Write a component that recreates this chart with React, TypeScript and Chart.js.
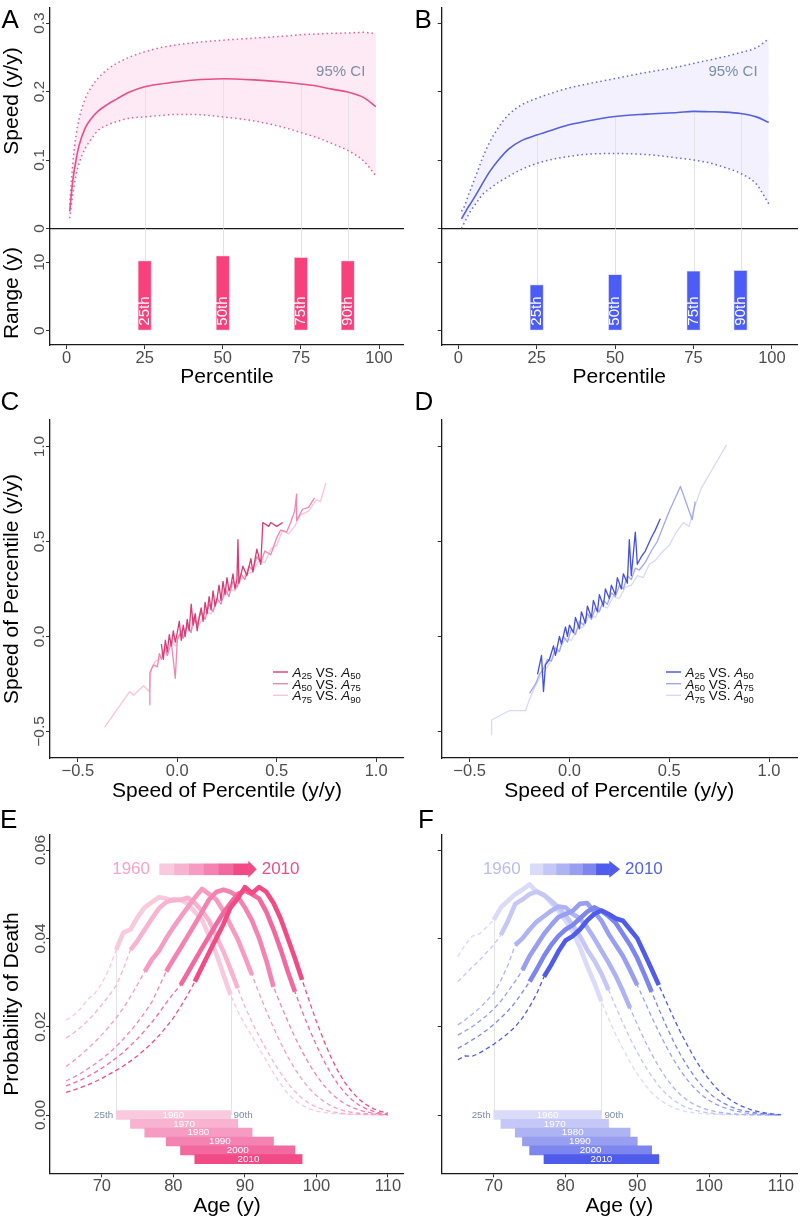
import React, { useEffect, useRef } from 'react';
import { Chart, registerables } from 'chart.js';

Chart.register(...registerables);

const FONT = '"Liberation Sans", Arial, Helvetica, sans-serif';
const AXIS = '#1a1a1a';
const TICK = '#333333';
const LABEL = '#4d4d4d';
const SLATE = '#7b8ea6';
const ROT = -Math.PI / 2;

/* ---------------- A & B : speed / range by percentile ---------------- */
const PCT = [1, 2, 3, 4, 6, 8, 10, 13, 16, 20, 25, 30, 35, 40, 50, 60, 70, 75, 80, 85, 90, 95, 99];
const A_MEAN = [0.025, 0.07, 0.099, 0.121, 0.147, 0.161, 0.171, 0.181, 0.189, 0.199, 0.207, 0.211, 0.214, 0.2165, 0.2187, 0.217, 0.2135, 0.211, 0.208, 0.2035, 0.1993, 0.1915, 0.178];
const A_UPPER = [0.035, 0.095, 0.135, 0.16, 0.19, 0.207, 0.219, 0.232, 0.241, 0.25, 0.258, 0.264, 0.268, 0.271, 0.275, 0.278, 0.281, 0.283, 0.284, 0.285, 0.2855, 0.2865, 0.2845];
const A_LOWER = [0.015, 0.05, 0.077, 0.095, 0.117, 0.131, 0.143, 0.151, 0.156, 0.161, 0.163, 0.165, 0.1665, 0.1665, 0.163, 0.157, 0.147, 0.14, 0.133, 0.124, 0.114, 0.099, 0.077];
const B_MEAN = [0.014, 0.022, 0.03, 0.037, 0.052, 0.068, 0.083, 0.101, 0.116, 0.128, 0.1365, 0.144, 0.151, 0.156, 0.1635, 0.167, 0.1695, 0.171, 0.1705, 0.17, 0.168, 0.163, 0.155];
const B_UPPER = [0.025, 0.033, 0.046, 0.058, 0.082, 0.106, 0.126, 0.149, 0.166, 0.18, 0.19, 0.198, 0.205, 0.21, 0.219, 0.228, 0.236, 0.241, 0.246, 0.251, 0.257, 0.264, 0.277];
const B_LOWER = [0.0, 0.009, 0.018, 0.026, 0.039, 0.051, 0.058, 0.068, 0.076, 0.086, 0.095, 0.101, 0.105, 0.108, 0.1095, 0.108, 0.103, 0.1, 0.096, 0.089, 0.0805, 0.065, 0.036];
const RANGE_PCT = [25, 50, 75, 90];
const RANGE_NAMES = ['25th', '50th', '75th', '90th'];
const A_RANGE = [10.2, 10.95, 10.7, 10.2];
const B_RANGE = [6.7, 8.2, 8.7, 8.8];
const SPEED_TICKS = [0, 0.1, 0.2, 0.3];
const RANGE_TICKS = [0, 10];
const PCT_TICKS = [0, 25, 50, 75, 100];

/* ---------------- C & D : speed of percentile pairs ---------------- */
const SOP_TICKS = [-0.5, 0, 0.5, 1];
const LEGEND_PAIRS = [['25', '50'], ['50', '75'], ['75', '90']];
const C_A25_A50 = [
  [-0.08, -0.04], [-0.07, -0.12], [-0.06, -0.02], [-0.05, -0.08], [-0.04, 0.01], [-0.03, -0.05], [-0.02, 0.03], [-0.01, -0.03],
  [0.0, 0.02], [0.01, 0.08], [0.02, -0.02], [0.03, 0.06], [0.04, 0.0], [0.05, 0.09], [0.06, 0.03], [0.07, 0.17],
  [0.08, 0.06], [0.09, 0.12], [0.1, 0.03], [0.11, 0.1], [0.12, 0.15], [0.13, 0.08], [0.14, 0.18], [0.15, 0.12],
  [0.16, 0.21], [0.17, 0.14], [0.18, 0.24], [0.19, 0.16], [0.2, 0.2], [0.21, 0.27], [0.22, 0.19], [0.23, 0.29],
  [0.24, 0.22], [0.25, 0.31], [0.26, 0.24], [0.27, 0.27], [0.28, 0.33], [0.29, 0.25], [0.3, 0.3], [0.305, 0.51],
  [0.31, 0.28], [0.33, 0.37], [0.35, 0.32], [0.37, 0.41], [0.38, 0.34], [0.4, 0.46], [0.42, 0.38], [0.43, 0.6],
  [0.46, 0.58], [0.47, 0.6], [0.5, 0.58], [0.53, 0.6],
];
const C_A50_A75 = [
  [-0.14, -0.36], [-0.138, -0.19], [-0.12, -0.15], [-0.1, -0.16], [-0.09, -0.09], [-0.08, -0.12], [-0.06, -0.06], [-0.05, -0.1],
  [-0.03, -0.03], [-0.01, -0.22], [0.0, -0.02], [0.02, 0.03], [0.03, -0.01], [0.05, 0.06], [0.07, 0.02], [0.08, 0.1],
  [0.1, 0.06], [0.12, 0.13], [0.14, 0.09], [0.16, 0.17], [0.18, 0.13], [0.2, 0.2], [0.22, 0.17], [0.24, 0.25],
  [0.26, 0.21], [0.28, 0.29], [0.3, 0.26], [0.32, 0.33], [0.34, 0.3], [0.36, 0.37], [0.38, 0.35], [0.4, 0.42],
  [0.42, 0.39], [0.44, 0.45], [0.47, 0.43], [0.5, 0.52], [0.52, 0.56], [0.55, 0.55], [0.57, 0.6], [0.59, 0.66],
  [0.6, 0.75], [0.6, 0.61], [0.63, 0.67], [0.66, 0.68], [0.69, 0.73],
];
const C_A75_A90 = [
  [-0.365, -0.477], [-0.24, -0.29], [-0.22, -0.31], [-0.17, -0.26], [-0.14, -0.29], [-0.13, -0.17], [-0.11, -0.13], [-0.09, -0.12],
  [-0.07, -0.07], [-0.05, -0.1], [-0.03, -0.02], [-0.01, -0.05], [0.01, 0.01], [0.03, -0.01], [0.05, 0.05], [0.07, 0.03],
  [0.09, 0.09], [0.11, 0.06], [0.14, 0.13], [0.17, 0.12], [0.2, 0.18], [0.23, 0.2], [0.26, 0.25], [0.29, 0.24],
  [0.32, 0.3], [0.35, 0.33], [0.38, 0.34], [0.41, 0.4], [0.44, 0.39], [0.47, 0.46], [0.5, 0.48], [0.53, 0.56],
  [0.56, 0.54], [0.59, 0.58], [0.62, 0.64], [0.66, 0.66], [0.7, 0.72], [0.72, 0.71], [0.747, 0.808],
];
const D_A25_A50 = [
  [-0.16, -0.2], [-0.14, -0.1], [-0.13, -0.29], [-0.12, -0.15], [-0.1, -0.12], [-0.08, -0.05], [-0.07, -0.1], [-0.05, 0.0],
  [-0.04, -0.04], [-0.02, 0.05], [-0.01, 0.0], [0.0, 0.06], [0.02, 0.02], [0.03, 0.1], [0.05, 0.04], [0.06, 0.13],
  [0.08, 0.07], [0.09, 0.16], [0.11, 0.1], [0.12, 0.19], [0.14, 0.13], [0.15, 0.22], [0.17, 0.16], [0.18, 0.25],
  [0.2, 0.2], [0.21, 0.27], [0.23, 0.22], [0.24, 0.31], [0.26, 0.25], [0.27, 0.33], [0.29, 0.28], [0.3, 0.51],
  [0.31, 0.32], [0.33, 0.55], [0.34, 0.38], [0.36, 0.42], [0.38, 0.45], [0.41, 0.52], [0.43, 0.56], [0.455, 0.62],
];
const D_A50_A75 = [
  [-0.2, -0.3], [-0.17, -0.25], [-0.15, -0.2], [-0.13, -0.17], [-0.11, -0.12], [-0.09, -0.13], [-0.07, -0.06], [-0.05, -0.08],
  [-0.03, 0.0], [-0.01, -0.03], [0.01, 0.04], [0.03, 0.01], [0.05, 0.08], [0.07, 0.06], [0.09, 0.12], [0.11, 0.09],
  [0.13, 0.15], [0.15, 0.13], [0.17, 0.19], [0.19, 0.17], [0.21, 0.23], [0.23, 0.21], [0.25, 0.27], [0.27, 0.25],
  [0.29, 0.32], [0.31, 0.3], [0.33, 0.36], [0.35, 0.35], [0.38, 0.39], [0.41, 0.45], [0.44, 0.5], [0.47, 0.58],
  [0.5, 0.66], [0.556, 0.79], [0.615, 0.615], [0.63, 0.71],
];
const D_A75_A90 = [
  [-0.39, -0.52], [-0.39, -0.44], [-0.3, -0.39], [-0.22, -0.39], [-0.2, -0.33], [-0.17, -0.26], [-0.14, -0.2], [-0.11, -0.16],
  [-0.08, -0.1], [-0.05, -0.07], [-0.02, -0.01], [0.01, -0.02], [0.04, 0.04], [0.07, 0.05], [0.1, 0.11], [0.13, 0.1],
  [0.16, 0.16], [0.19, 0.15], [0.22, 0.21], [0.25, 0.2], [0.28, 0.26], [0.31, 0.27], [0.34, 0.32], [0.37, 0.31],
  [0.4, 0.38], [0.43, 0.4], [0.46, 0.44], [0.5, 0.48], [0.53, 0.54], [0.57, 0.6], [0.6, 0.58], [0.62, 0.66],
  [0.66, 0.78], [0.71, 0.87], [0.787, 1.009],
];

/* ---------------- E & F : probability of death by age ---------------- */
const AGES = [65, 66, 67, 68, 69, 70, 71, 72, 73, 74, 75, 76, 77, 78, 79, 80, 81, 82, 83, 84, 85, 86, 87, 88, 89, 90, 91, 92, 93, 94, 95, 96, 97, 98, 99, 100, 101, 102, 103, 104, 105, 106, 107, 108, 109, 110];
const DECADES = ['1960', '1970', '1980', '1990', '2000', '2010'];
const E_1960 = [0.0215, 0.0225, 0.024, 0.0262, 0.0275, 0.0298, 0.033, 0.0374, 0.0413, 0.042, 0.0448, 0.047, 0.0482, 0.0493, 0.049, 0.0485, 0.0488, 0.0478, 0.046, 0.0442, 0.0405, 0.0365, 0.0318, 0.0272, 0.0235, 0.0205, 0.0178, 0.015, 0.0123, 0.0095, 0.007, 0.0048, 0.0033, 0.0022, 0.0014, 0.0009, 0.0006, 0.0004, 0.0003, 0.0002, 0.00015, 0.0001, 0.0001, 0.00005, 0.00005, 0.00003];
const E_1970 = [0.0174, 0.0185, 0.0198, 0.0213, 0.023, 0.025, 0.027, 0.0293, 0.033, 0.0374, 0.0395, 0.042, 0.0445, 0.0468, 0.0482, 0.0488, 0.0487, 0.0492, 0.048, 0.0462, 0.044, 0.0405, 0.037, 0.033, 0.0287, 0.0245, 0.021, 0.0178, 0.0148, 0.012, 0.0095, 0.0072, 0.0053, 0.0038, 0.0026, 0.0018, 0.0012, 0.0008, 0.0005, 0.0003, 0.0002, 0.00015, 0.0001, 0.00007, 0.00005, 0.00003];
const E_1980 = [0.011, 0.0122, 0.0135, 0.015, 0.0165, 0.0182, 0.02, 0.022, 0.0242, 0.0268, 0.0296, 0.0325, 0.0352, 0.0372, 0.04, 0.0425, 0.0448, 0.047, 0.0492, 0.0512, 0.05, 0.0488, 0.0462, 0.043, 0.0398, 0.0358, 0.0317, 0.0275, 0.0235, 0.0198, 0.0163, 0.0132, 0.0104, 0.008, 0.006, 0.0044, 0.0031, 0.0021, 0.0014, 0.0009, 0.0006, 0.0004, 0.0003, 0.0002, 0.0001, 0.00005];
const E_1990 = [0.0077, 0.0085, 0.0094, 0.0104, 0.0115, 0.0127, 0.014, 0.0155, 0.0172, 0.019, 0.021, 0.0232, 0.0256, 0.029, 0.0325, 0.0352, 0.0378, 0.0405, 0.0432, 0.046, 0.0488, 0.0505, 0.051, 0.0505, 0.0495, 0.047, 0.044, 0.04, 0.035, 0.029, 0.025, 0.0212, 0.0176, 0.0144, 0.0115, 0.009, 0.0068, 0.005, 0.0036, 0.0025, 0.0017, 0.0011, 0.0007, 0.0004, 0.0002, 0.0001];
const E_2000 = [0.0066, 0.0072, 0.0079, 0.0087, 0.0096, 0.0106, 0.0117, 0.0129, 0.0142, 0.0157, 0.0173, 0.0191, 0.021, 0.0231, 0.0254, 0.0275, 0.0294, 0.0322, 0.035, 0.0378, 0.0405, 0.0432, 0.0458, 0.048, 0.05, 0.0508, 0.05, 0.049, 0.046, 0.042, 0.0375, 0.0325, 0.0279, 0.0235, 0.0195, 0.0158, 0.0124, 0.0095, 0.007, 0.005, 0.0034, 0.0022, 0.0014, 0.0008, 0.0004, 0.0002];
const E_2010 = [0.0051, 0.0056, 0.0062, 0.0068, 0.0075, 0.0083, 0.0092, 0.0101, 0.0111, 0.0122, 0.0134, 0.0148, 0.0163, 0.018, 0.0199, 0.022, 0.0245, 0.0272, 0.0302, 0.0335, 0.0368, 0.04, 0.0432, 0.047, 0.049, 0.0516, 0.0502, 0.0516, 0.0505, 0.048, 0.0445, 0.04, 0.0355, 0.0306, 0.0258, 0.0212, 0.017, 0.0132, 0.01, 0.0073, 0.0052, 0.0035, 0.0023, 0.0014, 0.0008, 0.0004];
const F_1960 = [0.0359, 0.0385, 0.0405, 0.041, 0.0425, 0.0442, 0.047, 0.0485, 0.05, 0.051, 0.0522, 0.0505, 0.0498, 0.048, 0.0462, 0.044, 0.0415, 0.038, 0.0338, 0.03, 0.0257, 0.0218, 0.0182, 0.015, 0.012, 0.0093, 0.007, 0.0051, 0.0036, 0.0025, 0.0017, 0.0011, 0.0007, 0.0005, 0.0003, 0.0002, 0.00015, 0.0001, 0.0001, 0.00005, 0.00005, 0.00003, 0.00002, 0.00002, 0.00001, 0.00001];
const F_1970 = [0.0302, 0.0318, 0.0335, 0.035, 0.0368, 0.0385, 0.0408, 0.044, 0.0478, 0.0488, 0.05, 0.0506, 0.0498, 0.0485, 0.047, 0.0452, 0.043, 0.0405, 0.0375, 0.035, 0.032, 0.0283, 0.0245, 0.0208, 0.0173, 0.0142, 0.0113, 0.0088, 0.0066, 0.0048, 0.0034, 0.0024, 0.0016, 0.0011, 0.0007, 0.0005, 0.0003, 0.0002, 0.00015, 0.0001, 0.00007, 0.00005, 0.00003, 0.00002, 0.00001, 0.00001];
const F_1980 = [0.0204, 0.0215, 0.0228, 0.0242, 0.0258, 0.0276, 0.0305, 0.034, 0.0385, 0.04, 0.042, 0.0438, 0.045, 0.0462, 0.0472, 0.047, 0.0455, 0.0445, 0.0425, 0.04, 0.0372, 0.0345, 0.0315, 0.028, 0.0242, 0.0205, 0.017, 0.0138, 0.0109, 0.0084, 0.0063, 0.0046, 0.0033, 0.0023, 0.0016, 0.0011, 0.0007, 0.0005, 0.0003, 0.0002, 0.0001, 0.00008, 0.00005, 0.00003, 0.00002, 0.00001];
const F_1990 = [0.0181, 0.019, 0.02, 0.0212, 0.0225, 0.024, 0.0258, 0.028, 0.0303, 0.0328, 0.036, 0.0385, 0.041, 0.043, 0.0448, 0.0455, 0.0462, 0.0478, 0.048, 0.046, 0.044, 0.041, 0.0385, 0.036, 0.0328, 0.0294, 0.0258, 0.0222, 0.0188, 0.0156, 0.0127, 0.0101, 0.0079, 0.006, 0.0045, 0.0033, 0.0024, 0.0017, 0.0012, 0.0008, 0.0005, 0.0003, 0.0002, 0.0001, 0.00005, 0.00003];
const F_2000 = [0.0151, 0.016, 0.017, 0.018, 0.0192, 0.0205, 0.022, 0.0236, 0.0255, 0.0278, 0.0302, 0.033, 0.036, 0.0385, 0.0405, 0.042, 0.043, 0.0445, 0.046, 0.047, 0.0462, 0.045, 0.0435, 0.041, 0.0385, 0.0355, 0.0318, 0.0279, 0.024, 0.0203, 0.0168, 0.0137, 0.011, 0.0086, 0.0066, 0.005, 0.0037, 0.0027, 0.0019, 0.0013, 0.0009, 0.0006, 0.0004, 0.0002, 0.0001, 0.0001];
const F_2010 = [0.0125, 0.0134, 0.0133, 0.014, 0.015, 0.016, 0.0172, 0.0185, 0.02, 0.022, 0.0245, 0.0275, 0.0313, 0.034, 0.037, 0.0395, 0.0405, 0.042, 0.044, 0.0455, 0.0463, 0.0455, 0.0445, 0.044, 0.042, 0.04, 0.0365, 0.033, 0.0294, 0.0258, 0.0222, 0.0188, 0.0157, 0.0128, 0.0102, 0.008, 0.0061, 0.0046, 0.0034, 0.0024, 0.0017, 0.0011, 0.0007, 0.0004, 0.0002, 0.0001];
const E_P25 = [72, 74, 76, 79, 81, 83];
const E_P90 = [88, 89, 91, 94, 97, 98];
const F_P25 = [70, 71, 73, 74, 75, 77];
const F_P90 = [85, 86, 89, 90, 92, 93];
const BAR_LEVELS = [0, -0.002, -0.004, -0.006, -0.008, -0.01];
const AGE_TICKS = [70, 80, 90, 100, 110];
const PROB_TICKS = [0, 0.02, 0.04, 0.06];

/* ---------------- styles ---------------- */
const PINK = {
  mean: '#e64f8a', ci: '#e0609a', fill: '#fdeaf4', bar: '#f8417c', barEdge: '#fcc8da',
  pairs: ['#d83b76', '#ee87b2', '#f8c5db'],
  decades: ['#f9c9de', '#f8b3d1', '#f69cc2', '#f483b1', '#f2699f', '#f24a84'],
  from: '#f5a4c8', to: '#ec4f88',
};
const BLUE = {
  mean: '#5560dc', ci: '#6469d4', fill: '#f2f1fd', bar: '#4c5cf6', barEdge: '#c9cdfb',
  pairs: ['#4551d8', '#a1a7ef', '#d7d9f7'],
  decades: ['#d9dbf8', '#c5c8f6', '#aeb3f3', '#989ff1', '#7d86ee', '#4f5ceb'],
  from: '#b8bcf3', to: '#5462e2',
};
const LEFT = { ox: 0, w: 404, l: 50, r: 404, mid: 227, ci: 340.7, legLine: [273, 288], arrow: { textEnd: 150, x0: 159.3, x1: 248.3, head: 256.7 } };
const RIGHT = { ox: 400, w: 400, l: 441.7, r: 797, mid: 619.3, ci: 733, legLine: [666, 681], arrow: { textEnd: 120.7, x0: 130, x1: 209.3, head: 220 } };

/* ---------------- helpers ---------------- */
const fmtSpeed = (v: number) => (v === 0 ? '0' : v.toFixed(1));
const fmtSigned = (v: number) => (v < 0 ? '\u2212' : '') + Math.abs(v).toFixed(1);
const fmtInt = (v: number) => String(v);
const fmtProb = (v: number) => v.toFixed(2);
const pts = (xs: number[], ys: number[]) => xs.map((x, i) => ({ x, y: ys[i] }));

function drawText(ctx: any, s: string, x: number, y: number, size: number, color: string, o: any = {}) {
  ctx.save();
  ctx.translate(x, y);
  if (o.rot) ctx.rotate(o.rot);
  ctx.font = `${o.style ? o.style + ' ' : ''}${size}px ${FONT}`;
  ctx.fillStyle = color;
  ctx.textAlign = o.align || 'center';
  ctx.textBaseline = o.baseline || 'middle';
  ctx.fillText(s, 0, 0);
  ctx.restore();
}

function xAxis(min: number, max: number, ticks: number[], height: number, labels: boolean, marks: boolean, fmt: (v: number) => string) {
  return {
    type: 'linear', position: 'bottom', min, max, offset: false, bounds: 'data',
    afterBuildTicks: (s: any) => { s.ticks = ticks.map((v) => ({ value: v })); },
    afterFit: (s: any) => { s.height = height; s.paddingLeft = 0; s.paddingRight = 0; s.paddingTop = 0; s.paddingBottom = 0; },
    grid: { display: marks, drawOnChartArea: false, drawTicks: marks, tickLength: 4, tickColor: TICK, tickWidth: 1, offset: false },
    border: { display: true, color: AXIS, width: 1.3 },
    ticks: { display: labels, autoSkip: false, maxRotation: 0, minRotation: 0, padding: 0, color: LABEL, font: { family: FONT, size: 16.5, lineHeight: 1.1 }, callback: (v: any) => fmt(Number(v)) },
  };
}

function yAxis(min: number, max: number, ticks: number[], width: number) {
  return {
    type: 'linear', position: 'left', min, max, bounds: 'data', offset: false,
    afterBuildTicks: (s: any) => { s.ticks = ticks.map((v) => ({ value: v })); },
    afterFit: (s: any) => { s.width = width; s.paddingLeft = 0; s.paddingRight = 0; s.paddingTop = 0; s.paddingBottom = 0; },
    grid: { display: true, drawOnChartArea: false, drawTicks: true, tickLength: 4, tickColor: TICK, tickWidth: 1, offset: false },
    border: { display: true, color: AXIS, width: 1.3 },
    ticks: { display: false },
  };
}

function lineSet(data: any[], color: string, width: number, dash: number[] = [], smooth = false) {
  return {
    type: 'line', data, borderColor: color, backgroundColor: color, borderWidth: width, borderDash: dash,
    pointRadius: 0, fill: false, tension: 0, cubicInterpolationMode: smooth ? 'monotone' : 'default',
    borderJoinStyle: 'round',
  };
}

function makeConfig(box: any, plot: any, datasets: any[], scales: any, plugin: any) {
  return {
    type: 'line',
    data: { datasets },
    options: {
      responsive: false, maintainAspectRatio: false, animation: false, devicePixelRatio: 1, events: [],
      layout: { padding: { left: 0, top: plot.t - box.y, right: box.x + box.w - plot.r, bottom: 0 } },
      plugins: { legend: { display: false }, tooltip: { enabled: false }, filler: { drawTime: 'beforeDatasetsDraw' } },
      scales,
    },
    plugins: [plugin],
  };
}

function yLabels(ctx: any, scale: any, ticks: number[], fmt: (v: number) => string, x: number) {
  ticks.forEach((v) => drawText(ctx, fmt(v), x, scale.getPixelForValue(v), 15.5, LABEL, { rot: ROT, baseline: 'alphabetic' }));
}

/* ---------------- panel builders ---------------- */
function speedPanel(side: any, mean: number[], upper: number[], lower: number[], th: any, first: boolean) {
  const box = { x: side.ox, y: 0, w: side.w, h: 240 };
  const plot = { l: side.l, t: 8, r: side.r, b: 228.5 };
  const plugin = {
    id: 'speedDeco',
    beforeDatasetsDraw(chart: any) {
      const { ctx, scales: { x, y } } = chart;
      ctx.save();
      ctx.strokeStyle = '#e3e3e3';
      ctx.lineWidth = 1;
      RANGE_PCT.forEach((p) => {
        const px = Math.round(x.getPixelForValue(p)) + 0.5;
        ctx.beginPath();
        ctx.moveTo(px, y.getPixelForValue(mean[PCT.indexOf(p)]));
        ctx.lineTo(px, y.getPixelForValue(0));
        ctx.stroke();
      });
      ctx.restore();
    },
    afterDraw(chart: any) {
      const { ctx, scales: { y } } = chart;
      drawText(ctx, '95% CI', side.ci - box.x, 71.7 - box.y, 15, SLATE);
      if (first) {
        yLabels(ctx, y, SPEED_TICKS, fmtSpeed, 44 - box.x);
        drawText(ctx, 'Speed (y/y)', 17.5 - box.x, 101 - box.y, 21, '#000', { rot: ROT, baseline: 'alphabetic' });
      }
    },
  };
  const datasets = [
    lineSet(pts(PCT, mean), th.mean, 1.6, [], true),
    { ...lineSet(pts(PCT, upper), th.ci, 1.5, [1.5, 3], true), fill: '+1', backgroundColor: th.fill },
    lineSet(pts(PCT, lower), th.ci, 1.5, [1.5, 3], true),
  ];
  const scales = {
    x: xAxis(-5.3, 108, PCT_TICKS, box.h - plot.b + box.y, false, false, fmtInt),
    y: yAxis(0, 0.322, SPEED_TICKS, plot.l - box.x),
  };
  return { box, build: () => makeConfig(box, plot, datasets, scales, plugin) };
}

function rangePanel(side: any, values: number[], th: any, first: boolean) {
  const box = { x: side.ox, y: 229, w: side.w, h: 171 };
  const plot = { l: side.l, t: 229, r: side.r, b: 345 };
  const plugin = {
    id: 'rangeDeco',
    beforeDatasetsDraw(chart: any) {
      const { ctx, chartArea, scales: { x, y } } = chart;
      ctx.save();
      ctx.strokeStyle = '#e3e3e3';
      ctx.lineWidth = 1;
      RANGE_PCT.forEach((p, i) => {
        const px = Math.round(x.getPixelForValue(p)) + 0.5;
        ctx.beginPath();
        ctx.moveTo(px, chartArea.top);
        ctx.lineTo(px, y.getPixelForValue(values[i]));
        ctx.stroke();
      });
      ctx.restore();
    },
    afterDatasetsDraw(chart: any) {
      const { ctx, scales: { x, y } } = chart;
      RANGE_PCT.forEach((p, i) => {
        drawText(ctx, RANGE_NAMES[i], x.getPixelForValue(p), y.getPixelForValue(0) - 5, 15, '#ffffff', { rot: ROT, align: 'left' });
      });
    },
    afterDraw(chart: any) {
      const { ctx, scales: { y } } = chart;
      if (first) {
        yLabels(ctx, y, RANGE_TICKS, fmtInt, 44 - box.x);
        drawText(ctx, 'Range (y)', 17.5 - box.x, 293 - box.y, 21, '#000', { rot: ROT, baseline: 'alphabetic' });
      }
      drawText(ctx, 'Percentile', side.mid - box.x, 377.7 - box.y, 21, '#000');
    },
  };
  const datasets = [{
    type: 'bar', data: pts(RANGE_PCT, values), backgroundColor: th.bar, borderColor: th.barEdge,
    borderWidth: 0.8, borderSkipped: false, barThickness: 13.3,
  }];
  const scales = {
    x: xAxis(-5.3, 108, PCT_TICKS, box.y + box.h - plot.b, true, true, fmtInt),
    y: yAxis(-2.09, 14.85, RANGE_TICKS, plot.l - box.x),
  };
  return { box, build: () => makeConfig(box, plot, datasets, scales, plugin) };
}

function pairLegend(ctx: any, side: any, box: any, colors: string[]) {
  const rows = [672, 683.7, 695.3];
  LEGEND_PAIRS.forEach(([a, b], i) => {
    const y = rows[i] - box.y;
    ctx.save();
    ctx.strokeStyle = colors[i];
    ctx.lineWidth = 1.4;
    ctx.beginPath();
    ctx.moveTo(side.legLine[0] - box.x, y);
    ctx.lineTo(side.legLine[1] - box.x, y);
    ctx.stroke();
    let x = side.legLine[1] + 4.5 - box.x;
    const parts: any[] = [['A', 'italic ', 13.5, 0], [a, '', 9.5, 2.5], [' VS. ', '', 13.5, 0], ['A', 'italic ', 13.5, 0], [b, '', 9.5, 2.5]];
    ctx.fillStyle = '#111';
    ctx.textAlign = 'left';
    ctx.textBaseline = 'alphabetic';
    parts.forEach(([s, st, size, dy]) => {
      ctx.font = `${st}${size}px ${FONT}`;
      ctx.fillText(s, x, y + 4.8 + dy);
      x += ctx.measureText(s).width;
    });
    ctx.restore();
  });
}

function sopPanel(side: any, series: number[][][], th: any, first: boolean) {
  const box = { x: side.ox, y: 405, w: side.w, h: 405 };
  const plot = { l: side.l, t: 420, r: side.r, b: 758 };
  const plugin = {
    id: 'sopDeco',
    afterDraw(chart: any) {
      const { ctx, scales: { y } } = chart;
      pairLegend(ctx, side, box, th.pairs);
      if (first) {
        yLabels(ctx, y, SOP_TICKS, fmtSigned, 44 - box.x);
        drawText(ctx, 'Speed of Percentile (y/y)', 17.5 - box.x, 589 - box.y, 21, '#000', { rot: ROT, baseline: 'alphabetic' });
      }
      drawText(ctx, 'Speed of Percentile (y/y)', side.mid - box.x, 791.7 - box.y, 21, '#000');
    },
  };
  const datasets = series.map((s, i) => lineSet(s.map(([x, y]) => ({ x, y })), th.pairs[i], 1.3));
  const scales = {
    x: xAxis(-0.64, 1.14, SOP_TICKS, box.y + box.h - plot.b, true, true, fmtSigned),
    y: yAxis(-0.64, 1.14, SOP_TICKS, plot.l - box.x),
  };
  return { box, build: () => makeConfig(box, plot, datasets, scales, plugin) };
}

function agePanel(side: any, curves: number[][], p25: number[], p90: number[], th: any, first: boolean) {
  const box = { x: side.ox, y: 830, w: side.w, h: 390 };
  const plot = { l: side.l, t: 835, r: side.r, b: 1173.3 };
  const plugin = {
    id: 'ageDeco',
    beforeDatasetsDraw(chart: any) {
      const { ctx, scales: { x, y } } = chart;
      ctx.save();
      ctx.strokeStyle = '#e3e3e3';
      ctx.lineWidth = 1;
      [p25[0], p90[0]].forEach((a) => {
        const px = Math.round(x.getPixelForValue(a)) + 0.5;
        ctx.beginPath();
        ctx.moveTo(px, y.getPixelForValue(curves[0][AGES.indexOf(a)]));
        ctx.lineTo(px, y.getPixelForValue(BAR_LEVELS[0]));
        ctx.stroke();
      });
      ctx.restore();
    },
    afterDatasetsDraw(chart: any) {
      const { ctx, scales: { x, y } } = chart;
      BAR_LEVELS.forEach((lv, i) => {
        drawText(ctx, DECADES[i], x.getPixelForValue((p25[i] + p90[i]) / 2), y.getPixelForValue(lv), 9.8, '#ffffff');
      });
      drawText(ctx, '25th', x.getPixelForValue(p25[0]) - 3, y.getPixelForValue(BAR_LEVELS[0]), 9.8, SLATE, { align: 'right' });
      drawText(ctx, '90th', x.getPixelForValue(p90[0]) + 3, y.getPixelForValue(BAR_LEVELS[0]), 9.8, SLATE, { align: 'left' });
      // year arrow
      const ar = side.arrow;
      const ay = 869.3 - box.y;
      drawText(ctx, DECADES[0], ar.textEnd, ay, 17, th.from, { align: 'right' });
      const w = (ar.x1 - ar.x0) / th.decades.length;
      th.decades.forEach((c: string, i: number) => {
        ctx.fillStyle = c;
        ctx.fillRect(ar.x0 + i * w, ay - 5.8, w + 0.6, 11.6);
      });
      ctx.fillStyle = th.decades[th.decades.length - 1];
      ctx.beginPath();
      ctx.moveTo(ar.x1, ay - 8.5);
      ctx.lineTo(ar.head, ay);
      ctx.lineTo(ar.x1, ay + 8.5);
      ctx.closePath();
      ctx.fill();
      drawText(ctx, DECADES[DECADES.length - 1], ar.head + 5, ay, 17, th.to, { align: 'left' });
    },
    afterDraw(chart: any) {
      const { ctx, scales: { y } } = chart;
      if (first) {
        yLabels(ctx, y, PROB_TICKS, fmtProb, 44.5 - box.x);
        drawText(ctx, 'Probability of Death', 17.5 - box.x, 1004 - box.y, 21, '#000', { rot: ROT, baseline: 'alphabetic' });
      }
      drawText(ctx, 'Age (y)', side.mid - box.x, 1206.7 - box.y, 21, '#000');
    },
  };
  const order = [5, 4, 3, 2, 1, 0];
  const solids = order.map((d) => lineSet(
    AGES.map((a, i) => ({ x: a, y: curves[d][i] })).filter((p) => p.x >= p25[d] && p.x <= p90[d]),
    th.decades[d], 4.6));
  const dashed = order.map((d) => lineSet(pts(AGES, curves[d]), th.decades[d], 1.3, [4.5, 3.2]));
  const bars = {
    type: 'bar', indexAxis: 'y',
    data: BAR_LEVELS.map((lv, i) => ({ y: lv, x: [p25[i], p90[i]] })),
    backgroundColor: th.decades, borderWidth: 0, barThickness: 9, grouped: false,
  };
  const datasets = [...solids, ...dashed, bars];
  const scales = {
    x: xAxis(62.75, 112.25, AGE_TICKS, box.y + box.h - plot.b, true, true, fmtInt),
    y: yAxis(-0.0132, 0.0634, PROB_TICKS, plot.l - box.x),
  };
  return { box, build: () => makeConfig(box, plot, datasets, scales, plugin) };
}

/* ---------------- React ---------------- */
function ChartCanvas({ panel }: { panel: any }) {
  const ref = useRef<HTMLCanvasElement | null>(null);
  useEffect(() => {
    if (!ref.current) return;
    const chart = new Chart(ref.current, panel.build());
    return () => chart.destroy();
  }, []);
  const { box } = panel;
  return (
    <canvas
      ref={ref}
      width={box.w}
      height={box.h}
      style={{ position: 'absolute', left: box.x, top: box.y, width: box.w, height: box.h }}
    />
  );
}

const PANELS = [
  speedPanel(LEFT, A_MEAN, A_UPPER, A_LOWER, PINK, true),
  speedPanel(RIGHT, B_MEAN, B_UPPER, B_LOWER, BLUE, false),
  rangePanel(LEFT, A_RANGE, PINK, true),
  rangePanel(RIGHT, B_RANGE, BLUE, false),
  sopPanel(LEFT, [C_A25_A50, C_A50_A75, C_A75_A90], PINK, true),
  sopPanel(RIGHT, [D_A25_A50, D_A50_A75, D_A75_A90], BLUE, false),
  agePanel(LEFT, [E_1960, E_1970, E_1980, E_1990, E_2000, E_2010], E_P25, E_P90, PINK, true),
  agePanel(RIGHT, [F_1960, F_1970, F_1980, F_1990, F_2000, F_2010], F_P25, F_P90, BLUE, false),
];

const LETTERS = [
  { t: 'A', x: 1.5, y: 6.3 }, { t: 'B', x: 414.5, y: 6.3 },
  { t: 'C', x: 0.5, y: 388 }, { t: 'D', x: 414.5, y: 388 },
  { t: 'E', x: 0, y: 806 }, { t: 'F', x: 418, y: 806 },
];

export default function App() {
  return (
    <div style={{ position: 'absolute', left: 0, top: 0, width: 800, height: 1220, background: '#ffffff', overflow: 'hidden' }}>
      {PANELS.map((p, i) => <ChartCanvas key={i} panel={p} />)}
      {LETTERS.map((l) => (
        <div key={l.t} style={{ position: 'absolute', left: l.x, top: l.y, fontFamily: FONT, fontSize: 26, lineHeight: '26px', color: '#000' }}>{l.t}</div>
      ))}
    </div>
  );
}
